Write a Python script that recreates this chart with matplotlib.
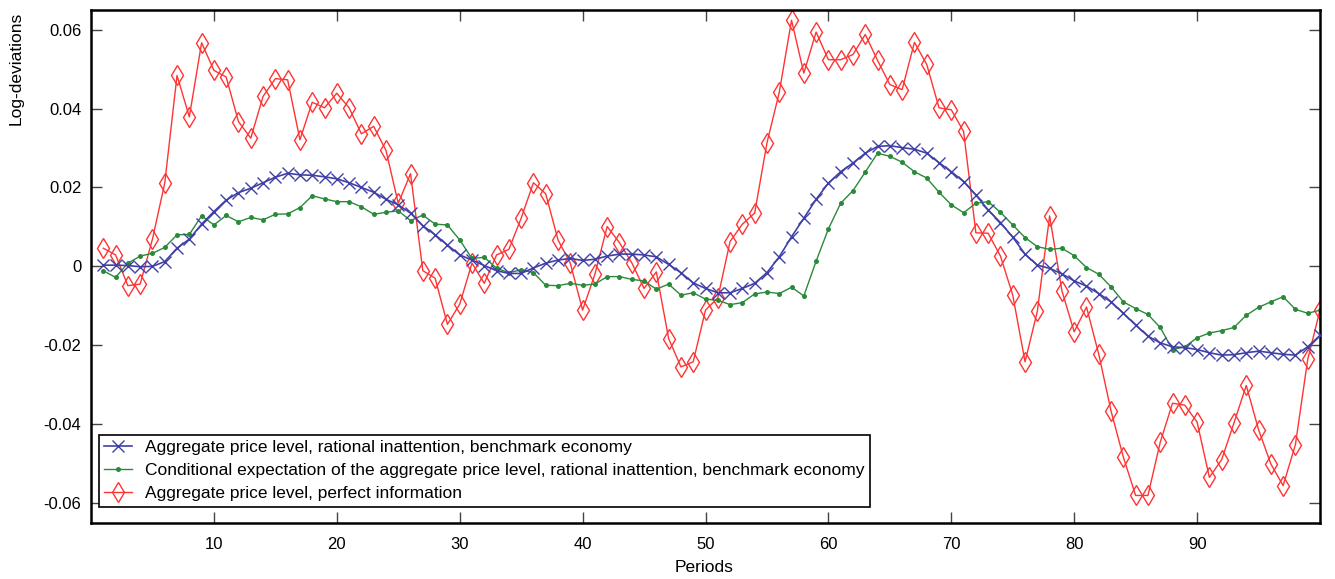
import matplotlib
matplotlib.use("Agg")
import matplotlib.pyplot as plt
import numpy as np

plt.rcParams['font.family'] = ['Liberation Sans', 'DejaVu Sans']

periods = list(range(1, 101))

price_ri = [
    0.0003, 0.0003, 0.0002, -0.0001, 0.0000, 0.0012, 0.0046, 0.0069, 0.0107, 0.0139,
    0.0168, 0.0187, 0.0198, 0.0212, 0.0226, 0.0236, 0.0232, 0.0231, 0.0227, 0.0222,
    0.0212, 0.0200, 0.0188, 0.0170, 0.0156, 0.0135, 0.0103, 0.0080, 0.0054, 0.0029,
    0.0016, 0.0002, -0.0011, -0.0018, -0.0018, -0.0004, 0.0008, 0.0016, 0.0020, 0.0015,
    0.0018, 0.0026, 0.0031, 0.0031, 0.0029, 0.0024, 0.0005, -0.0016, -0.0042, -0.0056,
    -0.0067, -0.0067, -0.0056, -0.0043, -0.0016, 0.0024, 0.0075, 0.0122, 0.0170, 0.0211,
    0.0240, 0.0262, 0.0287, 0.0304, 0.0306, 0.0301, 0.0297, 0.0287, 0.0263, 0.0240,
    0.0215, 0.0181, 0.0143, 0.0111, 0.0074, 0.0031, 0.0003, -0.0005, -0.0019, -0.0037,
    -0.0050, -0.0069, -0.0090, -0.0119, -0.0149, -0.0177, -0.0194, -0.0204, -0.0206, -0.0211,
    -0.0219, -0.0225, -0.0224, -0.0219, -0.0215, -0.0219, -0.0223, -0.0225, -0.0204, -0.0175,
]

expect_ri = [
    -0.0011, -0.0028, 0.0008, 0.0026, 0.0033, 0.0048, 0.0080, 0.0081, 0.0128, 0.0105,
    0.0129, 0.0113, 0.0124, 0.0118, 0.0132, 0.0133, 0.0149, 0.0179, 0.0171, 0.0164,
    0.0164, 0.0151, 0.0132, 0.0137, 0.0141, 0.0116, 0.0130, 0.0107, 0.0105, 0.0067,
    0.0020, 0.0023, -0.0005, -0.0016, -0.0009, -0.0016, -0.0048, -0.0049, -0.0043, -0.0048,
    -0.0045, -0.0026, -0.0026, -0.0033, -0.0037, -0.0058, -0.0045, -0.0073, -0.0067, -0.0083,
    -0.0086, -0.0097, -0.0092, -0.0070, -0.0065, -0.0069, -0.0053, -0.0075, 0.0013, 0.0095,
    0.0160, 0.0192, 0.0239, 0.0287, 0.0279, 0.0264, 0.0240, 0.0224, 0.0188, 0.0156,
    0.0136, 0.0160, 0.0164, 0.0137, 0.0105, 0.0073, 0.0050, 0.0043, 0.0046, 0.0027,
    -0.0003, -0.0020, -0.0052, -0.0090, -0.0107, -0.0122, -0.0155, -0.0211, -0.0204, -0.0181,
    -0.0169, -0.0163, -0.0155, -0.0124, -0.0104, -0.0090, -0.0077, -0.0109, -0.0119, -0.0111,
]

price_pi = [
    0.0046, 0.0029, -0.0049, -0.0045, 0.0069, 0.0211, 0.0484, 0.0379, 0.0567, 0.0497,
    0.0480, 0.0367, 0.0325, 0.0431, 0.0476, 0.0473, 0.0321, 0.0416, 0.0402, 0.0439,
    0.0402, 0.0336, 0.0355, 0.0294, 0.0160, 0.0235, -0.0011, -0.0030, -0.0147, -0.0096,
    0.0008, -0.0043, 0.0029, 0.0043, 0.0122, 0.0212, 0.0184, 0.0067, 0.0008, -0.0111,
    -0.0020, 0.0101, 0.0060, 0.0009, -0.0056, -0.0014, -0.0183, -0.0255, -0.0242, -0.0111,
    -0.0080, 0.0063, 0.0107, 0.0135, 0.0313, 0.0441, 0.0624, 0.0490, 0.0594, 0.0524,
    0.0524, 0.0537, 0.0588, 0.0522, 0.0461, 0.0448, 0.0568, 0.0512, 0.0402, 0.0397,
    0.0342, 0.0085, 0.0084, 0.0026, -0.0073, -0.0242, -0.0114, 0.0128, -0.0062, -0.0166,
    -0.0103, -0.0223, -0.0367, -0.0484, -0.0581, -0.0581, -0.0446, -0.0347, -0.0352, -0.0395,
    -0.0535, -0.0490, -0.0397, -0.0302, -0.0414, -0.0501, -0.0556, -0.0452, -0.0236, -0.0111,
]

labels = [
    "Aggregate price level, rational inattention, benchmark economy",
    "Conditional expectation of the aggregate price level, rational inattention, benchmark economy",
    "Aggregate price level, perfect information",
]

xticks = [10, 20, 30, 40, 50, 60, 70, 80, 90]
yticks = [-0.06, -0.04, -0.02, 0, 0.02, 0.04, 0.06]
ytick_labels = ["-0.06", "-0.04", "-0.02", "0", "0.02", "0.04", "0.06"]

W, H = 1335, 579
fig = plt.figure(figsize=(W / 100, H / 100), dpi=100)
ax = fig.add_axes([91 / W, 1 - 522.7 / H, (1320 - 91) / W, (522.7 - 10) / H])

blue = '#3f3fa6'
green = '#2b8a3a'
red = '#ff3333'

ax.plot(periods, price_ri, color=blue, lw=1.2, marker='x', ms=9, mew=1.0, label=labels[0], zorder=3)
ax.plot(periods, expect_ri, color=green, lw=1.0, marker='o', ms=3.6, mew=0, label=labels[1], zorder=2)
ax.plot(periods, price_pi, color=red, lw=1.0, marker='d', ms=10.5, mew=1.0, mfc='none', label=labels[2], zorder=1)

ax.set_xlim(0, 100)
ax.set_ylim(-0.065, 0.065)
ax.set_xticks(xticks)
ax.set_xticklabels([str(t) for t in xticks])
ax.set_yticks(yticks)
ax.set_yticklabels(ytick_labels)
ax.tick_params(direction='in', length=8, width=1.0, color='#444444', top=True, right=True,
               labelsize=12)
ax.tick_params(axis='x', pad=10)
ax.tick_params(axis='y', pad=7)
for s in ax.spines.values():
    s.set_linewidth(1.8)

fig.text(704 / W, 1 - 567 / H, "Periods", ha='center', va='center', fontsize=12.5)
fig.text(16 / W, 1 - 68 / H, "Log-deviations", ha='center', va='center', rotation=90, fontsize=12.5)

leg = ax.legend(loc='upper left', bbox_to_anchor=(99 / W, 1 - 435 / H), bbox_transform=fig.transFigure,
                borderaxespad=0, fancybox=False, framealpha=1, edgecolor='black', fontsize=12.5,
                handlelength=1.6, handletextpad=0.75, labelspacing=0.45, borderpad=0.3)
leg.get_frame().set_linewidth(1.2)

fig.savefig("out.png", dpi=100)
